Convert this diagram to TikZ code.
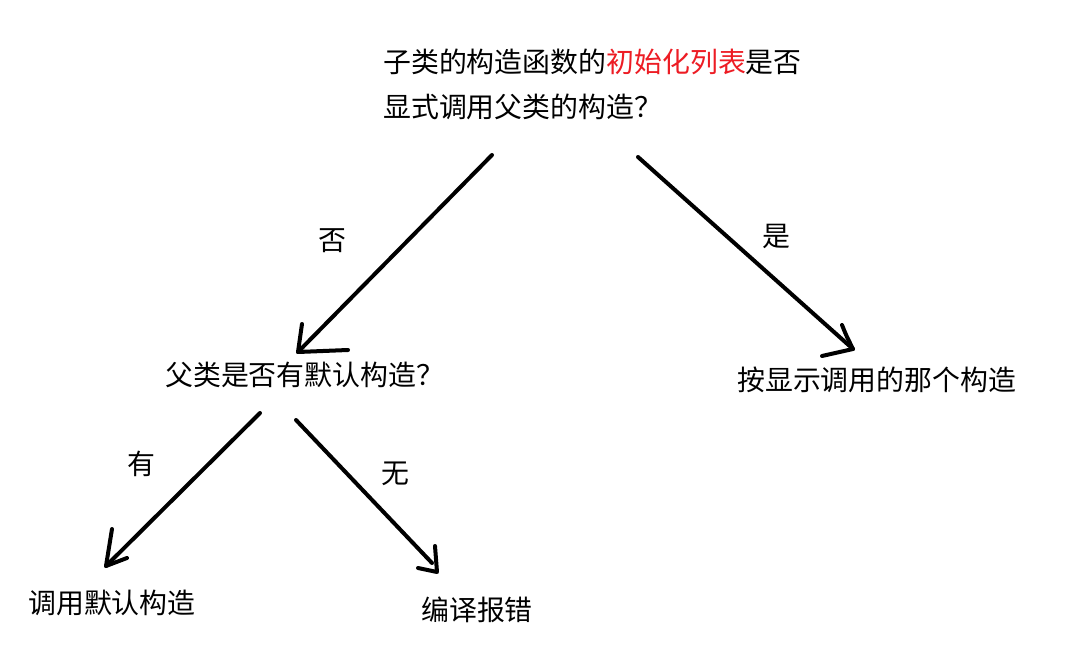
\documentclass[tikz,border=0pt]{standalone}
\usepackage{fontspec}
\newfontfamily\cjk{Noto Sans CJK SC}
\definecolor{hlred}{RGB}{237,28,36}
\begin{document}
\begin{tikzpicture}[x=1pt,y=-1pt,
  lbl/.style={inner sep=0pt,anchor=west,font=\cjk\fontsize{27.9}{30}\selectfont},
  stroke/.style={line width=4pt,line cap=round,line join=round,black}]
\useasboundingbox[fill=white] (0,0) rectangle (1072,660);
% texts
\node[lbl] (q1a) at (383,62) {子类的构造函数的\textcolor{hlred}{初始化列表}是否};
\node[lbl] (q1b) at (383,107) {显式调用父类的构造？};
\node[lbl] (q2) at (165,375) {父类是否有默认构造？};
\node[lbl] (r1) at (737,380) {按显示调用的那个构造};
\node[lbl] (r2) at (28,603) {调用默认构造};
\node[lbl] (r3) at (421,610) {编译报错};
\node[lbl] (no1) at (318,241) {否};
\node[lbl] (yes1) at (762,236) {是};
\node[lbl] (you) at (127,464) {有};
\node[lbl] (wu) at (381,474) {无};
% arrow shafts and heads
\coordinate (s1) at (492,155); \coordinate (t1) at (298,352);
\draw[stroke] (s1) -- (t1);
\draw[stroke] (302,324) -- (t1) -- (348,350);
\coordinate (s2) at (638,157); \coordinate (t2) at (853,349);
\draw[stroke] (s2) -- (t2);
\draw[stroke] (842,325) .. controls (846,335) .. (t2) -- (822,356);
\coordinate (s3) at (260,413); \coordinate (t3) at (106,566);
\draw[stroke] (s3) -- (t3);
\draw[stroke] (112,529) -- (t3) -- (127,558);
\coordinate (s4) at (296,420); \coordinate (t4) at (437,572);
\draw[stroke] (s4) -- (432,563);
\draw[stroke] (435,546) -- (t4) -- (418,568);
\end{tikzpicture}
\end{document}
